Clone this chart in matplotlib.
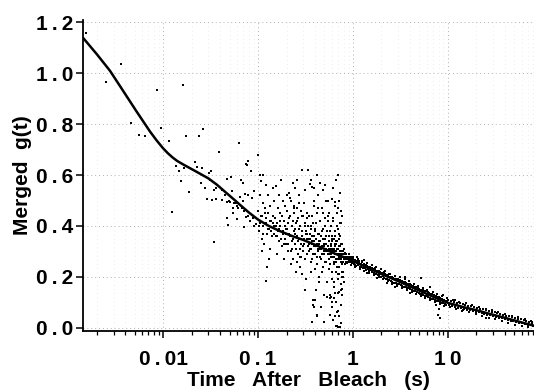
import numpy as np
import matplotlib
matplotlib.use("Agg")
import matplotlib.pyplot as plt
from matplotlib.ticker import LogLocator, FixedLocator, NullFormatter

# fitted curve
fit_t = [0.00145, 0.002, 0.00275, 0.0038, 0.0052, 0.00724, 0.0085, 0.01, 0.0112, 0.0125,
         0.014, 0.0164, 0.022, 0.03, 0.0369, 0.045, 0.055, 0.065, 0.08, 0.1,
         0.13, 0.17, 0.23, 0.3, 0.4, 0.5, 0.62, 0.77, 0.9, 1.0,
         1.5, 2.0, 3.0, 5.0, 7.0, 8.0, 10.0, 12.0, 15.0, 20.0,
         30.0, 40.0, 60.0, 81.0]
fit_g = [1.137, 1.075, 1.01, 0.93, 0.852, 0.772, 0.737, 0.705, 0.686, 0.670,
         0.656, 0.641, 0.615, 0.587, 0.562, 0.534, 0.506, 0.482, 0.453, 0.425,
         0.40, 0.38, 0.36, 0.345, 0.326, 0.31, 0.294, 0.28, 0.27, 0.262,
         0.232, 0.211, 0.183, 0.146, 0.122, 0.112, 0.098, 0.090, 0.080, 0.069,
         0.051, 0.039, 0.021, 0.008]

# sparse early points
sparse_t = [0.00153, 0.00357, 0.00252, 0.016, 0.0087, 0.00456, 0.0095, 0.00553, 0.0065, 0.0176,
            0.0236, 0.0264, 0.0116, 0.0635, 0.0384, 0.0783, 0.0218, 0.0758, 0.0137, 0.0147,
            0.0166, 0.0227, 0.0254, 0.0321, 0.0304, 0.0843, 0.0153, 0.0473, 0.052, 0.0662,
            0.0688, 0.0252, 0.0273, 0.0188, 0.034, 0.0527, 0.0292, 0.0323, 0.0363, 0.0416,
            0.0473, 0.051, 0.056, 0.060, 0.0695, 0.064, 0.0777, 0.0855, 0.054, 0.055,
            0.0678, 0.075, 0.0475, 0.060, 0.0743, 0.083, 0.0125, 0.0477, 0.0706, 0.090,
            0.096, 0.034, 0.0752, 0.084, 0.099, 0.072, 0.090,
            0.031, 0.036, 0.042, 0.045, 0.049, 0.058, 0.062, 0.071, 0.079, 0.088]
sparse_g = [1.157, 1.037, 0.967, 0.954, 0.933, 0.805, 0.786, 0.758, 0.752, 0.754,
            0.752, 0.782, 0.733, 0.728, 0.689, 0.656, 0.650, 0.639, 0.637, 0.618,
            0.627, 0.630, 0.629, 0.616, 0.607, 0.617, 0.575, 0.584, 0.591, 0.579,
            0.569, 0.569, 0.549, 0.535, 0.540, 0.537, 0.505, 0.501, 0.505, 0.504,
            0.493, 0.494, 0.492, 0.480, 0.498, 0.513, 0.520, 0.510, 0.471, 0.453,
            0.472, 0.464, 0.431, 0.426, 0.435, 0.421, 0.454, 0.403, 0.396, 0.399,
            0.409, 0.337, 0.645, 0.618, 0.681, 0.527, 0.536,
            0.58, 0.55, 0.54, 0.52, 0.50, 0.49, 0.47, 0.46, 0.44, 0.43]

# scattered cloud 0.1 - 0.78 s
cloud_t = [0.101, 0.103, 0.104, 0.106, 0.108, 0.109, 0.111, 0.113, 0.114, 0.116,
           0.118, 0.12, 0.122, 0.124, 0.126, 0.128, 0.13, 0.132, 0.135, 0.137,
           0.14, 0.142, 0.145, 0.147, 0.149, 0.105, 0.113, 0.122, 0.11, 0.13,
           0.151, 0.153, 0.155, 0.157, 0.159, 0.161, 0.163, 0.165, 0.167, 0.17,
           0.172, 0.174, 0.177, 0.179, 0.181, 0.184, 0.186, 0.189, 0.191, 0.194,
           0.196, 0.199, 0.202, 0.205, 0.208, 0.211, 0.214, 0.217, 0.22, 0.152,
           0.222, 0.225, 0.228, 0.231, 0.234, 0.237, 0.24, 0.243, 0.246, 0.249,
           0.252, 0.255, 0.258, 0.262, 0.265, 0.268, 0.272, 0.275, 0.279, 0.282,
           0.286, 0.289, 0.293, 0.297, 0.30, 0.304, 0.308, 0.312, 0.316, 0.32,
           0.324, 0.328, 0.332, 0.336, 0.34, 0.23, 0.245, 0.26, 0.275, 0.29,
           0.305, 0.318, 0.331, 0.238, 0.284,
           0.342, 0.346, 0.35, 0.354, 0.358, 0.362, 0.366, 0.37, 0.374, 0.378,
           0.383, 0.387, 0.391, 0.396, 0.40, 0.405, 0.41, 0.414, 0.419, 0.424,
           0.428, 0.433, 0.438, 0.443, 0.448, 0.453, 0.458, 0.463, 0.469, 0.474,
           0.48, 0.485, 0.49, 0.496, 0.502, 0.508, 0.514, 0.52, 0.526, 0.532,
           0.538, 0.544, 0.55, 0.348, 0.36, 0.372, 0.385, 0.398, 0.41, 0.425,
           0.44, 0.455, 0.47, 0.49, 0.51,
           0.555, 0.56, 0.566, 0.572, 0.578, 0.584, 0.59, 0.596, 0.602, 0.608,
           0.615, 0.621, 0.628, 0.634, 0.641, 0.647, 0.654, 0.661, 0.668, 0.675,
           0.682, 0.689, 0.696, 0.703, 0.71, 0.718, 0.725, 0.733, 0.74, 0.748,
           0.755, 0.763, 0.77, 0.56, 0.575, 0.59, 0.605, 0.62, 0.635, 0.65,
           0.665, 0.68, 0.695, 0.71, 0.725, 0.74, 0.755, 0.77, 0.60, 0.63,
           0.66, 0.69, 0.72, 0.75, 0.58, 0.64, 0.70, 0.76, 0.73, 0.745,
           0.76, 0.765, 0.715, 0.69,
           0.42, 0.37, 0.66, 0.49, 0.316, 0.40, 0.60, 0.49, 0.384, 0.42,
           0.58, 0.65, 0.69, 0.72]
cloud_g = [0.46, 0.38, 0.52, 0.41, 0.575, 0.35, 0.44, 0.49, 0.40, 0.33,
           0.47, 0.43, 0.56, 0.37, 0.45, 0.52, 0.39, 0.31, 0.48, 0.42,
           0.36, 0.55, 0.44, 0.40, 0.50, 0.60, 0.601, 0.184, 0.30, 0.27,
           0.43, 0.36, 0.556, 0.41, 0.29, 0.47, 0.38, 0.52, 0.34, 0.45,
           0.40, 0.58, 0.32, 0.44, 0.37, 0.50, 0.27, 0.42, 0.35, 0.48,
           0.39, 0.33, 0.46, 0.30, 0.41, 0.53, 0.37, 0.44, 0.25, 0.40,
           0.36, 0.50, 0.31, 0.42, 0.27, 0.45, 0.38, 0.55, 0.33, 0.41,
           0.22, 0.47, 0.36, 0.29, 0.43, 0.52, 0.35, 0.40, 0.24, 0.46,
           0.33, 0.622, 0.38, 0.30, 0.44, 0.35, 0.49, 0.27, 0.41, 0.19,
           0.37, 0.45, 0.32, 0.622, 0.40, 0.34, 0.39, 0.42, 0.31, 0.36,
           0.33, 0.38, 0.35, 0.47, 0.28,
           0.30, 0.44, 0.566, 0.35, 0.22, 0.39, 0.27, 0.553, 0.33, 0.41,
           0.109, 0.36, 0.48, 0.29, 0.38, 0.15, 0.32, 0.45, 0.25, 0.37,
           0.31, 0.52, 0.20, 0.34, 0.42, 0.28, 0.36, 0.081, 0.47, 0.32,
           0.24, 0.39, 0.30, 0.128, 0.43, 0.35, 0.26, 0.50, 0.33, 0.18,
           0.38, 0.29, 0.42, 0.33, 0.31, 0.36, 0.34, 0.32, 0.35, 0.30,
           0.33, 0.31, 0.29, 0.32, 0.30,
           0.34, 0.23, 0.45, 0.30, 0.38, 0.12, 0.28, 0.507, 0.35, 0.19,
           0.42, 0.31, 0.26, 0.115, 0.36, 0.29, 0.494, 0.22, 0.33, 0.007,
           0.40, 0.27, 0.135, 0.31, 0.24, 0.37, 0.004, 0.29, 0.46, 0.15,
           0.33, 0.20, 0.28, 0.31, 0.29, 0.32, 0.30, 0.28, 0.31, 0.29,
           0.30, 0.27, 0.29, 0.28, 0.30, 0.27, 0.29, 0.28, 0.36, 0.25,
           0.34, 0.21, 0.35, 0.26, 0.05, 0.046, 0.064, 0.151, 0.41, 0.17,
           0.44, 0.13, 0.50, 0.47,
           0.046, 0.022, 0.007, 0.024, 0.15, 0.109, 0.10, 0.128, 0.081, 0.05,
           0.115, 0.135, 0.004, 0.046]

# second pass over the cloud (denser part)
cloud2_t = [0.102, 0.107, 0.112, 0.117, 0.121, 0.127, 0.133, 0.138, 0.143, 0.148,
            0.154, 0.16, 0.166, 0.171, 0.176, 0.182, 0.188, 0.193, 0.198, 0.125,
            0.201, 0.206, 0.212, 0.218, 0.224, 0.229, 0.235, 0.241, 0.247, 0.253,
            0.259, 0.266, 0.273, 0.28, 0.287, 0.294, 0.301, 0.309, 0.317, 0.325,
            0.333, 0.215, 0.235, 0.255, 0.27, 0.29, 0.31, 0.325, 0.20, 0.26,
            0.351, 0.355, 0.359, 0.364, 0.368, 0.373, 0.377, 0.381, 0.386, 0.39,
            0.395, 0.40, 0.404, 0.409, 0.414, 0.419, 0.424, 0.429, 0.434, 0.44,
            0.445, 0.451, 0.456, 0.462, 0.468, 0.474, 0.48, 0.486, 0.492, 0.498,
            0.505, 0.511, 0.518, 0.524, 0.531, 0.538, 0.545, 0.36, 0.39, 0.42,
            0.45, 0.48, 0.51, 0.54, 0.375,
            0.552, 0.557, 0.563, 0.569, 0.575, 0.581, 0.587, 0.593, 0.599, 0.606,
            0.612, 0.618, 0.625, 0.631, 0.638, 0.645, 0.652, 0.659, 0.666, 0.673,
            0.68, 0.687, 0.694, 0.702, 0.709, 0.717, 0.724, 0.732, 0.74, 0.747,
            0.755, 0.763, 0.768, 0.772, 0.565, 0.585, 0.605, 0.625, 0.645, 0.665,
            0.685, 0.705, 0.725, 0.745, 0.765, 0.57, 0.60, 0.63, 0.66, 0.69,
            0.72, 0.75, 0.61, 0.67, 0.73, 0.62, 0.68, 0.74, 0.64, 0.70]
cloud2_g = [0.40, 0.44, 0.37, 0.45, 0.41, 0.39, 0.42, 0.38, 0.41, 0.37,
            0.40, 0.36, 0.39, 0.42, 0.35, 0.38, 0.33, 0.40, 0.37, 0.24,
            0.39, 0.33, 0.43, 0.36, 0.30, 0.40, 0.35, 0.48, 0.37, 0.31,
            0.42, 0.34, 0.39, 0.28, 0.44, 0.36, 0.32, 0.40, 0.37, 0.29,
            0.35, 0.51, 0.57, 0.26, 0.49, 0.21, 0.54, 0.43, 0.52, 0.58,
            0.37, 0.31, 0.40, 0.26, 0.34, 0.44, 0.29, 0.36, 0.50, 0.32,
            0.39, 0.23, 0.35, 0.41, 0.28, 0.33, 0.47, 0.30, 0.37, 0.18,
            0.34, 0.42, 0.27, 0.31, 0.38, 0.22, 0.35, 0.45, 0.29, 0.33,
            0.40, 0.26, 0.31, 0.36, 0.12, 0.30, 0.44, 0.58, 0.55, 0.60,
            0.57, 0.54, 0.56, 0.50, 0.09,
            0.32, 0.27, 0.36, 0.30, 0.25, 0.33, 0.40, 0.29, 0.22, 0.34,
            0.31, 0.43, 0.28, 0.35, 0.18, 0.32, 0.38, 0.26, 0.30, 0.45,
            0.24, 0.34, 0.29, 0.39, 0.21, 0.32, 0.27, 0.36, 0.30, 0.17,
            0.41, 0.25, 0.33, 0.22, 0.29, 0.31, 0.28, 0.30, 0.33, 0.27,
            0.31, 0.29, 0.32, 0.28, 0.30, 0.13, 0.08, 0.16, 0.10, 0.19,
            0.14, 0.09, 0.55, 0.58, 0.53, 0.03, 0.06, 0.02, 0.48, 0.60]

# tight band 0.78 - 80 s
band_t = [0.78, 0.78, 0.79, 0.79, 0.80, 0.80, 0.81, 0.82, 0.82, 0.83,
          0.84, 0.85, 0.85, 0.86, 0.87, 0.88, 0.89, 0.90, 0.91, 0.92,
          0.93, 0.94, 0.95, 0.96, 0.97, 0.98, 0.99, 0.79, 0.80,
          1.01, 1.02, 1.04, 1.05, 1.07, 1.08, 1.10, 1.12, 1.13, 1.15,
          1.17, 1.19, 1.21, 1.23, 1.25, 1.27, 1.29, 1.31, 1.34, 1.36,
          1.38, 1.41, 1.43, 1.46, 1.48, 1.51, 1.54, 1.57, 1.60, 1.63,
          1.66, 1.69, 1.72, 1.75, 1.79, 1.82, 1.86, 1.89, 1.93, 1.97,
          2.01, 2.05, 2.09, 2.13, 2.17, 2.22, 2.26, 2.31, 2.35, 2.40,
          2.45, 2.50, 2.55, 2.60, 2.65, 2.71, 2.76, 2.82, 2.88, 2.94,
          1.1, 1.3, 1.6, 2.0, 2.4, 1.4, 1.8, 2.3, 2.8, 2.1,
          3.00, 3.06, 3.12, 3.19, 3.25, 3.32, 3.38, 3.45, 3.52, 3.59,
          3.66, 3.73, 3.81, 3.88, 3.96, 4.04, 4.12, 4.20, 4.28, 4.37,
          4.46, 4.55, 4.64, 4.73, 4.82, 4.92, 5.02, 5.12, 5.22, 5.32,
          5.43, 5.54, 5.65, 5.76, 5.87, 5.99, 6.11, 6.23, 6.35, 6.48,
          6.61, 6.74, 6.87, 7.01, 7.15, 7.29, 7.44, 7.58, 7.73, 7.89,
          8.04, 8.20, 8.37, 8.53, 8.70, 8.88, 9.05, 9.23, 9.42, 9.60, 9.80,
          5.2, 6.5, 4.0, 7.5, 8.0, 7.8, 8.2, 3.5, 9.0,
          10.0, 10.4, 10.8, 11.2, 11.6, 12.0, 12.4, 12.9, 13.3, 13.8,
          14.3, 14.8, 15.3, 15.9, 16.5, 17.0, 17.7, 18.3, 19.0, 19.7,
          20.4, 21.1, 21.9, 22.7, 23.5, 24.3, 25.2, 26.1, 27.1, 28.0, 29.0,
          12.0, 18.0, 25.0, 14.0,
          30.0, 31.1, 32.2, 33.4, 34.6, 35.8, 37.1, 38.4, 39.8, 41.2,
          42.7, 44.2, 45.8, 47.4, 49.1, 50.9, 52.7, 54.6, 56.5, 58.5,
          60.6, 62.8, 65.0, 67.3, 69.7, 72.2, 74.8, 77.4, 80.0,
          70.0, 75.0, 78.0]
band_g = [0.30, 0.26, 0.29, 0.22, 0.27, 0.31, 0.28, 0.25, 0.29, 0.27,
          0.28, 0.26, 0.29, 0.27, 0.28, 0.26, 0.27, 0.28, 0.265, 0.275,
          0.26, 0.27, 0.28, 0.262, 0.255, 0.27, 0.258, 0.20, 0.18,
          0.27, 0.252, 0.266, 0.248, 0.262, 0.243, 0.258, 0.268, 0.246, 0.255,
          0.262, 0.24, 0.252, 0.238, 0.258, 0.248, 0.233, 0.25, 0.236, 0.245,
          0.228, 0.244, 0.23, 0.238, 0.222, 0.24, 0.226, 0.234, 0.218, 0.232,
          0.214, 0.227, 0.236, 0.212, 0.224, 0.206, 0.222, 0.208, 0.218, 0.20,
          0.216, 0.202, 0.213, 0.196, 0.21, 0.19, 0.207, 0.192, 0.205, 0.186,
          0.20, 0.184, 0.198, 0.18, 0.196, 0.177, 0.193, 0.174, 0.19, 0.172,
          0.28, 0.265, 0.245, 0.23, 0.212, 0.215, 0.196, 0.175, 0.162, 0.22,
          0.19, 0.172, 0.188, 0.168, 0.184, 0.165, 0.181, 0.162, 0.178, 0.16,
          0.176, 0.157, 0.173, 0.155, 0.17, 0.152, 0.168, 0.15, 0.165, 0.146,
          0.162, 0.143, 0.16, 0.14, 0.157, 0.137, 0.154, 0.134, 0.15, 0.131,
          0.148, 0.129, 0.146, 0.126, 0.143, 0.123, 0.14, 0.12, 0.137, 0.117,
          0.134, 0.114, 0.131, 0.112, 0.128, 0.109, 0.125, 0.106, 0.122, 0.104,
          0.12, 0.10, 0.116, 0.098, 0.113, 0.096, 0.11, 0.093, 0.107, 0.091, 0.106,
          0.195, 0.16, 0.135, 0.09, 0.075, 0.05, 0.04, 0.20, 0.13,
          0.108, 0.088, 0.104, 0.085, 0.101, 0.083, 0.098, 0.079, 0.096, 0.077,
          0.093, 0.074, 0.09, 0.071, 0.087, 0.069, 0.084, 0.066, 0.081, 0.063,
          0.078, 0.06, 0.075, 0.058, 0.072, 0.055, 0.069, 0.052, 0.066, 0.049, 0.063,
          0.11, 0.09, 0.04, 0.065,
          0.045, 0.06, 0.042, 0.057, 0.04, 0.054, 0.037, 0.051, 0.034, 0.048,
          0.031, 0.045, 0.028, 0.042, 0.026, 0.039, 0.023, 0.036, 0.02, 0.033,
          0.017, 0.03, 0.014, 0.027, 0.011, 0.024, 0.009, 0.021, 0.006,
          0.003, 0.028, 0.015]

# outer edge of the band
band2_t = [0.82, 0.86, 0.9, 0.95, 1.0, 1.06, 1.12, 1.18, 1.25, 1.32,
           1.4, 1.48, 1.57, 1.66, 1.76, 1.86, 1.97, 2.08, 2.2, 2.33,
           2.47, 2.61, 2.76, 2.92, 3.1, 3.3, 3.5, 3.7, 3.9, 4.15,
           4.4, 4.65, 4.9, 5.2, 5.5, 5.8, 6.1, 6.5, 6.9, 7.3,
           7.7, 8.2, 8.7, 9.2, 9.8, 10.5, 11.3, 12.2, 13.2, 14.3,
           15.5, 16.8, 18.2, 19.7, 21.3, 23.0, 25.0, 27.0, 29.0, 31.5,
           34.0, 37.0, 40.0, 43.0, 47.0, 51.0, 55.0, 60.0, 65.0, 70.0, 76.0]
band2_g = [0.295, 0.256, 0.288, 0.248, 0.28, 0.24, 0.272, 0.232, 0.264, 0.224,
           0.255, 0.215, 0.247, 0.207, 0.238, 0.198, 0.23, 0.19, 0.222, 0.182,
           0.213, 0.173, 0.205, 0.165, 0.198, 0.158, 0.19, 0.15, 0.182, 0.141,
           0.173, 0.133, 0.165, 0.125, 0.157, 0.117, 0.149, 0.109, 0.14, 0.10,
           0.133, 0.092, 0.124, 0.084, 0.117, 0.081, 0.11, 0.074, 0.103, 0.068,
           0.096, 0.061, 0.089, 0.054, 0.082, 0.047, 0.075, 0.04, 0.069, 0.033,
           0.062, 0.026, 0.055, 0.02, 0.048, 0.012, 0.041, 0.005, 0.034, 0.001, 0.027]

x_ticks = [0.01, 0.1, 1, 10]
x_labels = ['0\u2009.\u200901', '0\u2009.\u20091', '1', '1\u20090']
y_ticks = [0.0, 0.2, 0.4, 0.6, 0.8, 1.0, 1.2]
y_labels = ['0\u2009.\u20090', '0\u2009.\u20092', '0\u2009.\u20094', '0\u2009.\u20096',
            '0\u2009.\u20098', '1\u2009.\u20090', '1\u2009.\u20092']

plt.rcParams['font.family'] = ['Liberation Sans', 'DejaVu Sans']
plt.rcParams['font.weight'] = 'bold'

fig = plt.figure(figsize=(5.34, 3.91), dpi=100)
ax = fig.add_axes([0.155, 0.154, 0.845, 0.795])

t_all = sparse_t + cloud_t + cloud2_t + band_t + band2_t
g_all = sparse_g + cloud_g + cloud2_g + band_g + band2_g
ax.scatter(t_all, g_all, s=4.5, marker='s', color='black', linewidths=0, zorder=3)
ax.plot(fit_t, fit_g, color='black', linewidth=1.8, zorder=4)

ax.set_xscale('log')
ax.set_xlim(0.00142, 81)
ax.set_ylim(-0.012, 1.21)

ax.xaxis.set_major_locator(FixedLocator(x_ticks))
ax.set_xticklabels(x_labels)
ax.xaxis.set_minor_locator(LogLocator(base=10, subs=np.arange(2, 10)))
ax.xaxis.set_minor_formatter(NullFormatter())
ax.set_yticks(y_ticks)
ax.set_yticklabels(y_labels)

ax.grid(True, which='major', linestyle=(0, (1, 3)), color='#b0b0b0', linewidth=0.7)
ax.grid(True, which='minor', axis='x', linestyle=(0, (1, 5)), color='#dcdcdc', linewidth=0.5)

for side in ['top', 'right']:
    ax.spines[side].set_visible(False)
for side in ['left', 'bottom']:
    ax.spines[side].set_linewidth(1.3)

ax.tick_params(axis='both', which='major', direction='out', length=5, width=1.1,
               labelsize=15, pad=2)
ax.tick_params(axis='x', which='major', pad=9)
ax.tick_params(axis='x', which='minor', direction='out', length=3, width=0.9)

ax.set_xlabel('Time   After   Bleach   (s)', fontsize=15, fontweight='bold', labelpad=1)
ax.set_ylabel('Merged  g(t)', fontsize=15, fontweight='bold', labelpad=3)

fig.savefig('out.png', dpi=100)
